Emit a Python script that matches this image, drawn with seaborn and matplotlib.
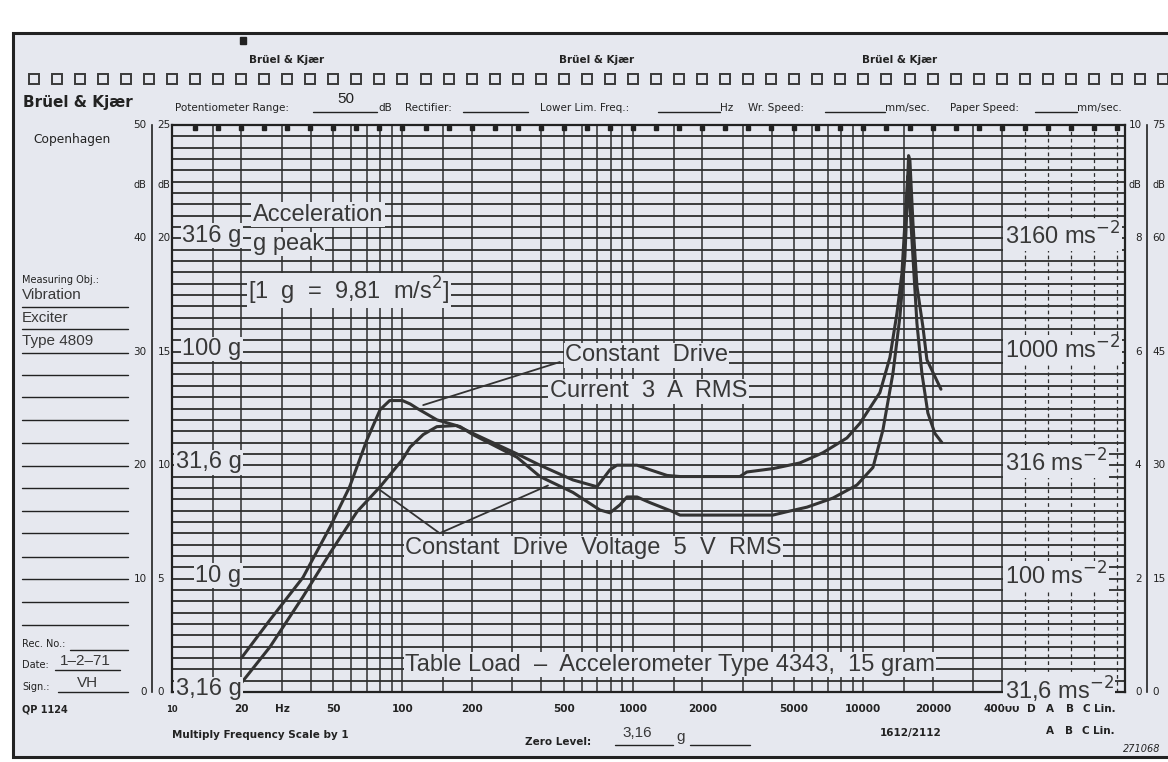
import numpy as np
import matplotlib
matplotlib.use("Agg")
import matplotlib.pyplot as plt
import matplotlib.patches as mpatches
import matplotlib.transforms as mtransforms
from matplotlib.lines import Line2D
from matplotlib.ticker import NullLocator
import seaborn as sns

# response curves (Hz, dB)
current_freq = [20, 26.6, 37, 48.5, 59, 70, 80, 88, 100, 108, 116, 141, 178, 202, 314, 395,
                549, 719, 795, 878, 942, 1041, 1185, 1491, 1600, 4050, 4660, 5690, 7370, 9370,
                11000, 12150, 13430, 14400, 15140, 15450, 15600, 15760, 16400, 17070, 17940,
                19040, 20430, 21900]
current_db = [3.0, 6.35, 10.1, 14.55, 18.1, 22.2, 24.9, 25.7, 25.7, 25.4, 25.0, 24.0, 23.4, 22.7,
              20.7, 19.0, 17.6, 16.05, 15.8, 16.5, 17.2, 17.2, 16.7, 15.9, 15.6, 15.6, 15.9, 16.3,
              17.1, 18.25, 19.8, 23.1, 28.1, 33.1, 38.4, 42.8, 45.5, 44.3, 38.4, 32.5, 28.1, 24.6,
              22.8, 22.0]

voltage_freq = [20, 26.6, 37, 48.5, 63.5, 80, 100, 108, 123, 141, 171, 223, 314, 395, 549, 698,
                795, 852, 1041, 1185, 1405, 1600, 2910, 3120, 4050, 5300, 6670, 8480, 9660, 11790,
                13030, 13980, 14690, 15140, 15600, 15700, 15910, 16400, 17070, 18120, 18860, 21700]
voltage_db = [0.8, 3.97, 8.4, 12.25, 15.9, 18.1, 20.5, 21.6, 22.7, 23.4, 23.5, 22.4, 21.0, 20.0,
              18.7, 18.1, 19.6, 20.0, 20.0, 19.6, 19.1, 19.0, 19.0, 19.4, 19.7, 20.2, 21.1, 22.4,
              23.7, 26.4, 29.5, 33.4, 36.9, 41.4, 45.8, 47.3, 46.9, 41.4, 35.8, 32.2, 29.3, 26.7]

tick_freqs = [10, 20, 30, 50, 100, 200, 500, 1000, 2000, 5000, 10000, 20000, 40000]
tick_labels = ['10', '20', 'Hz', '50', '100', '200', '500', '1000', '2000', '5000',
               '10000', '20000', '40000']

db_levels = [0, 10, 20, 30, 40]
g_labels = ['3,16 g', '10 g', '31,6 g', '100 g', '316 g']
ms2_labels = ['31,6', '100', '316', '1000', '3160']
scale_levels = [0, 10, 20, 30, 40, 50]
left_outer = ['0', '10', '20', '30', '40', '50']
left_inner = ['0', '5', '10', '15', '20', '25']
right_outer = ['0', '2', '4', '6', '8', '10']
right_inner = ['0', '15', '30', '45', '60', '75']

grid_mult = [1, 1.5, 2, 3, 4, 5, 6, 7, 8, 9]
weight_lines = [10 ** 4.7, 10 ** 4.8, 10 ** 4.9, 10 ** 5.0, 10 ** 5.1]

W, H = 1168, 762
PAPER = '#e6e8ef'
INK = '#222222'
GRID = '#2e2e2e'
CURVE = '#333333'
STENCIL_FONT = ['Liberation Sans', 'DejaVu Sans']

sns.set_style('white')
plt.rcParams['font.family'] = ['DejaVu Sans']

fig = plt.figure(figsize=(W / 100, H / 100), dpi=100, facecolor='white')


def fy(y):
    return 1 - y / H


def T(x, y, s, **kw):
    kw.setdefault('va', 'center')
    kw.setdefault('color', INK)
    fig.text(x / W, fy(y), s, **kw)


def hline(x0, x1, y, lw=1.0):
    fig.add_artist(Line2D([x0 / W, x1 / W], [fy(y), fy(y)], color=INK, lw=lw))


def level(freqs, dbs, f):
    return float(np.interp(np.log10(f), np.log10(freqs), dbs))


# paper sheet with its frame (behind the axes)
fig.patches.append(mpatches.Rectangle((13 / W, fy(757)), 1.2, (757 - 33) / H,
                                      transform=fig.transFigure, fc=PAPER, ec=INK,
                                      lw=2.2, zorder=-5))
fig.patches.append(mpatches.Rectangle((240 / W, fy(44)), 6 / W, 7 / H,
                                      transform=fig.transFigure, color=INK, zorder=1))

ax = fig.add_axes([172 / W, fy(692), (1125 - 172) / W, (692 - 125) / H])
ax.set_facecolor(PAPER)
ax.set_xscale('log')

for d in range(1, 50):
    ax.axhline(d, color=GRID, lw=1.3, zorder=1)
for k in range(1, 5):
    for m in grid_mult:
        if m * 10 ** k <= 40000:
            ax.axvline(m * 10 ** k, color=GRID, lw=1.1, zorder=1)
for f in weight_lines:
    ax.axvline(f, color=GRID, lw=0.9, ls=(0, (3, 2.5)), zorder=1)

sns.lineplot(x=current_freq, y=current_db, ax=ax, color=CURVE, lw=2.2,
             sort=False, estimator=None, zorder=3)
sns.lineplot(x=voltage_freq, y=voltage_db, ax=ax, color=CURVE, lw=2.2,
             sort=False, estimator=None, zorder=3)

ax.set_xlim(10, 10 ** 5.135)
ax.set_ylim(0, 50)

# chart-paper markings: top graduation squares and perforation row
top_marks = 10 ** np.arange(1.1, 5.15, 0.1)
ax.plot(top_marks, np.full(len(top_marks), 49.7), ls='none', marker='s', ms=3.2,
        color=INK, clip_on=False, zorder=4)
perf = 10 ** np.arange(0.4, 5.31, 0.1)
blend = mtransforms.blended_transform_factory(ax.transData, fig.transFigure)
ax.plot(perf, np.full(len(perf), fy(79)), transform=blend, ls='none', marker='s', ms=7,
        mfc='none', mec='#3a3a3a', mew=1.4, clip_on=False)
ax.set_xlim(10, 10 ** 5.135)

ax.set_xticks(tick_freqs)
ax.set_xticklabels(tick_labels)
ax.xaxis.set_minor_locator(NullLocator())
ax.set_yticks([])
ax.tick_params(axis='x', length=0, pad=9, labelsize=7.5, colors=INK)
for lbl in ax.get_xticklabels():
    lbl.set_fontweight('bold')
ax.get_xticklabels()[0].set_fontsize(6)
for s in ax.spines.values():
    s.set_visible(True)
    s.set_color(INK)
    s.set_linewidth(1.6)

# stencil lettering
stencil = dict(color='#383838', fontsize=17, family=STENCIL_FONT, zorder=5,
               bbox=dict(fc=PAPER, ec='none', pad=1.0))
for v, lbl in zip(db_levels, g_labels):
    ax.text(20, v + 0.25, lbl, ha='right', va='center', **stencil)
for v, lbl in zip(db_levels, ms2_labels):
    ax.text(4.1e4, v + 0.2, lbl + ' ms$^{-2}$', ha='left', va='center', **stencil)

ax.text(22.4, 42.1, 'Acceleration', ha='left', va='center', **stencil)
ax.text(22.4, 39.5, 'g peak', ha='left', va='center', **stencil)
ax.text(21.4, 35.4, '[1  g  =  9,81  m/s$^2$]', ha='left', va='center', **stencil)
ax.text(507, 29.7, 'Constant  Drive', ha='left', va='center', **stencil)
ax.text(436, 26.5, 'Current  3  A  RMS', ha='left', va='center', **stencil)
ax.text(102.6, 12.7, 'Constant  Drive  Voltage  5  V  RMS', ha='left', va='center', **stencil)
ax.text(102.6, 2.4, 'Table Load  –  Accelerometer Type 4343,  15 gram',
        ha='left', va='center', **stencil)

leader = dict(arrowstyle='-', color=CURVE, lw=1.3, shrinkA=0, shrinkB=0)
ax.annotate('', xy=(123, level(current_freq, current_db, 123) + 0.6), xytext=(482, 29.1),
            arrowprops=leader, zorder=4)
ax.annotate('', xy=(80, level(voltage_freq, voltage_db, 80) - 0.3), xytext=(145, 14.0),
            arrowprops=leader, zorder=4)
ax.annotate('', xy=(428, level(current_freq, current_db, 428) - 0.45), xytext=(145, 14.0),
            arrowprops=leader, zorder=4)


# dB scales beside the grid
def scale_axis(xpx, outer, inner, side):
    sax = fig.add_axes([xpx / W, fy(692), 0.0001, (692 - 125) / H])
    sax.set_ylim(0, 50)
    sax.patch.set_visible(False)
    sax.set_xticks([])
    for name, s in sax.spines.items():
        s.set_visible(name == 'left')
    sax.spines['left'].set_color(INK)
    sax.spines['left'].set_linewidth(1.2)
    sax.set_yticks(scale_levels)
    sax.set_yticks(range(0, 51, 2), minor=True)
    sax.tick_params(which='major', direction='inout', length=10, width=1.1, colors=INK,
                    labelleft=False)
    sax.tick_params(which='minor', direction='in' if side == 'left' else 'out',
                    length=5, width=1.0, colors=INK)
    tr = sax.get_yaxis_transform()
    for v, a, b in zip(scale_levels, outer, inner):
        sax.annotate(a, (0, v), xycoords=tr, xytext=(-4, 0), textcoords='offset points',
                     ha='right', va='center', fontsize=7.5, color=INK)
        sax.annotate(b, (0, v), xycoords=tr, xytext=(4, 0), textcoords='offset points',
                     ha='left', va='center', fontsize=7.5, color=INK)
    for dx, ha in ((-4, 'right'), (4, 'left')):
        sax.annotate('dB', (0, 44.7), xycoords=tr, xytext=(dx, 0), textcoords='offset points',
                     ha=ha, va='center', fontsize=7, color=INK)


scale_axis(152, left_outer, left_inner, 'left')
scale_axis(1147, right_outer, right_inner, 'right')

# printed form text
for xc in (287, 597, 900):
    T(xc, 60, 'Brüel & Kjær', ha='center', fontsize=7.5, weight='bold')
T(23, 103, 'Brüel & Kjær', fontsize=11, weight='bold')
T(33, 140, 'Copenhagen', fontsize=8.8)

T(175, 108, 'Potentiometer Range:', fontsize=7.5)
T(337, 99, '50', fontsize=11, family=STENCIL_FONT)
hline(313, 377, 112)
T(378, 108, 'dB', fontsize=7.5)
T(405, 108, 'Rectifier:', fontsize=7.5)
hline(463, 528, 112)
T(540, 108, 'Lower Lim. Freq.:', fontsize=7.5)
hline(658, 720, 112)
T(720, 108, 'Hz', fontsize=7.5)
T(748, 108, 'Wr. Speed:', fontsize=7.5)
hline(825, 885, 112)
T(885, 108, 'mm/sec.', fontsize=7.5)
T(950, 108, 'Paper Speed:', fontsize=7.5)
hline(1035, 1077, 112)
T(1077, 108, 'mm/sec.', fontsize=7.5)

T(22, 280, 'Measuring Obj.:', fontsize=7)
T(22, 295, 'Vibration', fontsize=11, family=STENCIL_FONT, color='#383838')
T(22, 318, 'Exciter', fontsize=11, family=STENCIL_FONT, color='#383838')
T(22, 341, 'Type 4809', fontsize=11, family=STENCIL_FONT, color='#383838')
for y in [307, 329, 353, 375, 397, 420, 443, 466, 488, 511, 533, 557, 579, 602, 625]:
    hline(22, 128, y)
T(22, 644, 'Rec. No.:', fontsize=7)
hline(70, 128, 650)
T(22, 665, 'Date:', fontsize=7)
T(60, 661, '1–2–71', fontsize=11, family=STENCIL_FONT, color='#383838')
hline(55, 120, 670)
T(22, 687, 'Sign.:', fontsize=7)
T(77, 683, 'VH', fontsize=11, family=STENCIL_FONT, color='#383838')
hline(58, 128, 692)
T(22, 710, 'QP 1124', fontsize=7, weight='bold')

for x, s in [(1031, 'D'), (1050, 'A'), (1070, 'B'), (1086, 'C')]:
    T(x, 709, s, ha='center', fontsize=7.5, weight='bold')
T(1094, 709, 'Lin.', fontsize=7.5, weight='bold')
for x, s in [(1050, 'A'), (1069, 'B'), (1085, 'C')]:
    T(x, 731, s, ha='center', fontsize=7.5, weight='bold')
T(1093, 731, 'Lin.', fontsize=7.5, weight='bold')

T(172, 735, 'Multiply Frequency Scale by 1', fontsize=7.5, weight='bold')
T(525, 742, 'Zero Level:', fontsize=7.5, weight='bold')
T(622, 733, '3,16', fontsize=11, family=STENCIL_FONT, color='#383838')
hline(615, 673, 745)
T(676, 737, 'g', fontsize=11, family=STENCIL_FONT, color='#383838')
hline(690, 750, 745)
T(880, 733, '1612/2112', fontsize=7.5, weight='bold')
T(1123, 749, '271068', fontsize=7, style='italic')

fig.savefig('out.png', dpi=100, facecolor='white')
